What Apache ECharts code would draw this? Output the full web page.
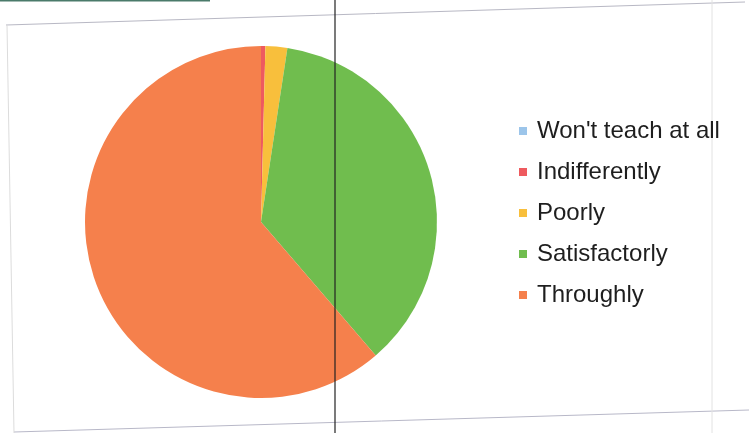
<!DOCTYPE html>
<html>
<head>
<meta charset="utf-8">
<script src="https://cdn.jsdelivr.net/npm/echarts@6/dist/echarts.min.js"></script>
<style>html,body{margin:0;padding:0;background:#fff;}#c{width:749px;height:433px;}</style>
</head>
<body>
<div id="c"></div>
<script>
const categories = ["Won't teach at all", "Indifferently", "Poorly", "Satisfactorly", "Throughly"];
const values = [0, 0.4, 2.0, 36.3, 61.3];
const colors = ['#9cc5ea', '#ee5a5f', '#f8bf3c', '#70bd4e', '#f5804c'];

const chart = echarts.init(document.getElementById('c'), null, {renderer: 'canvas'});
chart.setOption({
  backgroundColor: '#ffffff',
  animation: false,
  color: colors,
  legend: {
    orient: 'vertical',
    left: 519,
    top: 119,
    padding: 0,
    itemWidth: 8,
    itemHeight: 8,
    itemGap: 17,
    icon: 'rect',
    textStyle: {fontFamily: 'Liberation Sans', fontSize: 24, lineHeight: 24, color: '#1e1e1e', padding: [0,0,0,5]},
    data: categories
  },
  graphic: [
    {type: 'line', shape: {x1: 6, y1: 25, x2: 745, y2: 2}, style: {stroke: '#b8b8c4', lineWidth: 1}},
    {type: 'line', shape: {x1: 14, y1: 432, x2: 749, y2: 410}, style: {stroke: '#b8b8c8', lineWidth: 1}},
    {type: 'line', shape: {x1: 7, y1: 25, x2: 14, y2: 433}, style: {stroke: '#dcdcdc', lineWidth: 1}},
    {type: 'line', shape: {x1: 712, y1: 0, x2: 712, y2: 433}, style: {stroke: '#e2e2e2', lineWidth: 1}},
    {type: 'line', shape: {x1: 0, y1: 0.5, x2: 210, y2: 0.5}, style: {stroke: '#4a7a6a', lineWidth: 2}},
    {type: 'line', z: 100, shape: {x1: 335, y1: 0, x2: 335, y2: 433}, style: {stroke: '#222222', lineWidth: 1.2}}
  ],
  series: [{
    type: 'pie',
    center: [261, 222],
    radius: 176,
    startAngle: 90,
    clockwise: true,
    label: {show: false},
    labelLine: {show: false},
    emphasis: {disabled: true},
    itemStyle: {borderWidth: 0},
    data: categories.map((c, i) => ({name: c, value: values[i]}))
  }]
});
</script>
</body>
</html>
